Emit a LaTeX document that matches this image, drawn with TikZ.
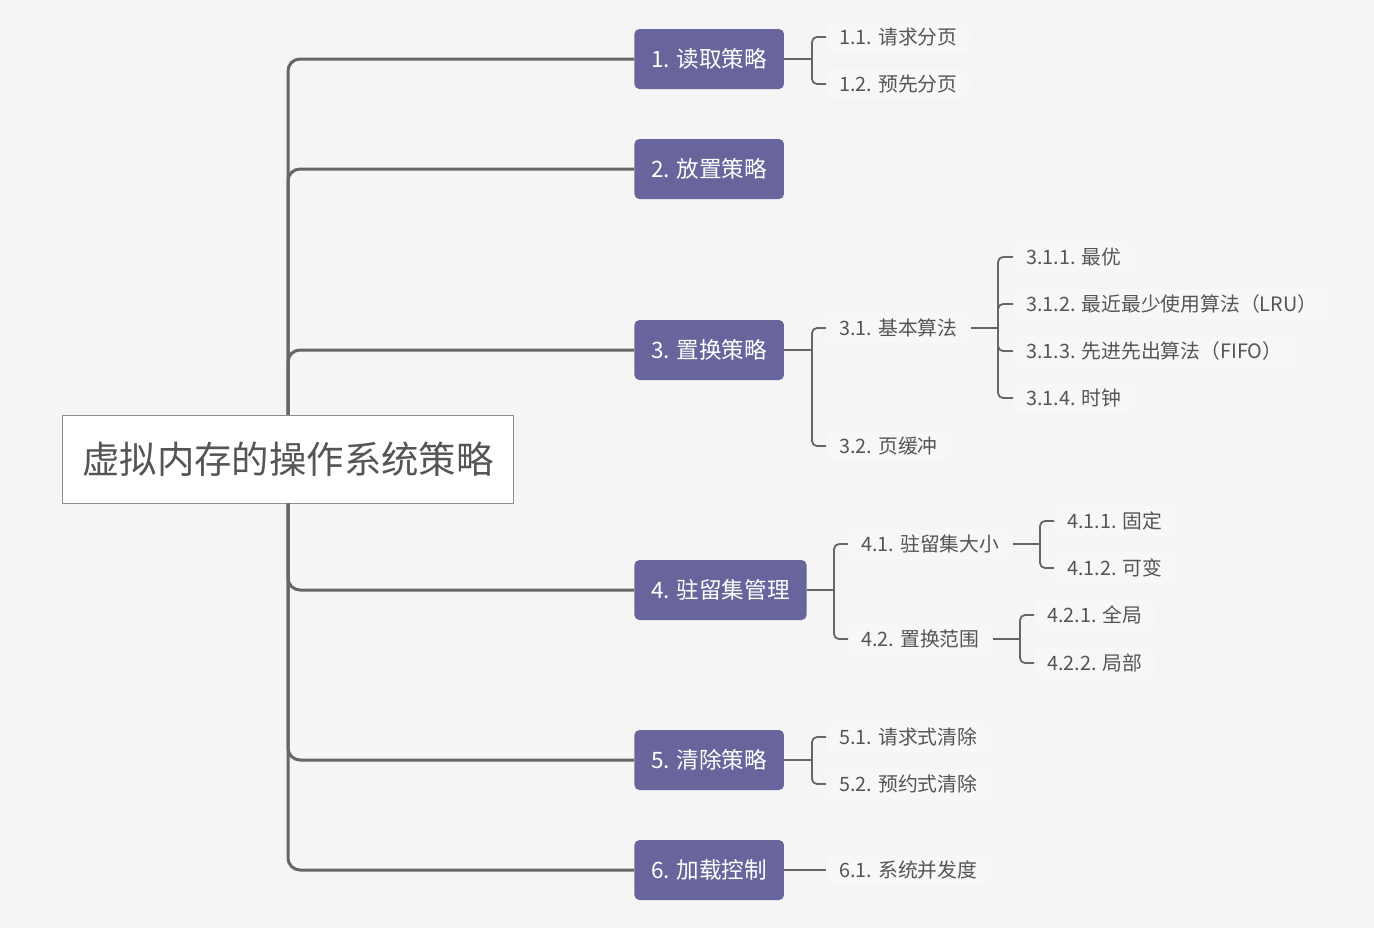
\documentclass[tikz,border=0pt]{standalone}
\usepackage{fontspec}
\setmainfont{Noto Sans CJK SC}
\usepackage{tikz}
\usetikzlibrary{backgrounds}
\definecolor{bggray}{HTML}{F5F5F5}
\definecolor{boxpurple}{HTML}{67659B}
\definecolor{linegray}{HTML}{666666}
\definecolor{textgray}{HTML}{555555}
\definecolor{rootborder}{HTML}{8C8C8C}
\definecolor{leafbg}{HTML}{F7F7F7}
\newcommand{\trunkwidth}{1.5pt}
\newcommand{\twigwidth}{0.9pt}

\begin{document}
\begin{tikzpicture}[x=0.5pt,y=-0.5pt,
  root/.style={draw=rootborder,fill=white,text=textgray,line width=0.5pt,
    font=\fontsize{18.7}{20}\selectfont,minimum width=225.5pt,minimum height=44pt,inner sep=0pt},
  topic/.style={fill=boxpurple,text=white,rounded corners=2.5pt,anchor=west,
    font=\fontsize{11.3}{13}\selectfont,minimum height=30pt,inner xsep=8.4pt},
  leaf/.style={fill=leafbg,text=textgray,rounded corners=3pt,anchor=west,
    font=\fontsize{9.9}{12}\selectfont,inner xsep=6.5pt,inner ysep=3pt},
  trunk/.style={draw=linegray,line width=\trunkwidth,rounded corners=6pt},
  twig/.style={draw=linegray,line width=\twigwidth,rounded corners=2.5pt}]
\path[use as bounding box,fill=bggray] (0,0) rectangle (1374,928);
%root and topics
\node[root] (root) at (288,459) {虚拟内存的操作系统策略};
\node[topic] (1) at (634,59) {1. 读取策略};
\node[topic] (2) at (634,169) {2. 放置策略};
\node[topic] (3) at (634,350) {3. 置换策略};
\node[topic] (4) at (634,590) {4. 驻留集管理};
\node[topic] (5) at (634,760) {5. 清除策略};
\node[topic] (6) at (634,870) {6. 加载控制};
%leaves
\node[leaf] (11) at (826,37) {1.1. 请求分页};
\node[leaf] (12) at (826,84) {1.2. 预先分页};
\node[leaf] (31) at (826,328) {3.1. 基本算法};
\node[leaf] (32) at (826,446) {3.2. 页缓冲};
\node[leaf] (311) at (1013,257) {3.1.1. 最优};
\node[leaf] (312) at (1013,304) {3.1.2. 最近最少使用算法（LRU）};
\node[leaf] (313) at (1013,351) {3.1.3. 先进先出算法（FIFO）};
\node[leaf] (314) at (1013,398) {3.1.4. 时钟};
\node[leaf] (41) at (848,544) {4.1. 驻留集大小};
\node[leaf] (42) at (848,639) {4.2. 置换范围};
\node[leaf] (411) at (1054,521) {4.1.1. 固定};
\node[leaf] (412) at (1054,568) {4.1.2. 可变};
\node[leaf] (421) at (1034,615) {4.2.1. 全局};
\node[leaf] (422) at (1034,663) {4.2.2. 局部};
\node[leaf] (51) at (826,737) {5.1. 请求式清除};
\node[leaf] (52) at (826,784) {5.2. 预约式清除};
\node[leaf] (61) at (826,870) {6.1. 系统并发度};
%trunk
\draw[trunk] (1.west) -| (root.north);
\draw[trunk] (2.west) -| (root.north);
\draw[trunk] (3.west) -| (root.north);
\draw[trunk] (4.west) -| (root.south);
\draw[trunk] (5.west) -| (root.south);
\draw[trunk] (6.west) -| (root.south);
%1
\coordinate (b1) at (812,59);
\draw[twig] (1.east) -- (b1);
\draw[twig] (11.west) -| (b1) |- (12.west);
%3
\coordinate (b3) at (812,350);
\draw[twig] (3.east) -- (b3);
\draw[twig] (31.west) -| (b3) |- (32.west);
\coordinate (b31) at (998,328);
\draw[twig] (31.east) -- (b31);
\draw[twig] (311.west) -| (b31) |- (314.west);
\draw[twig] (312.west) -| (b31);
\draw[twig] (313.west) -| (b31);
%4
\coordinate (b4) at (834,590);
\draw[twig] (4.east) -- (b4);
\draw[twig] (41.west) -| (b4) |- (42.west);
\coordinate (b41) at (1040,544);
\draw[twig] (41.east) -- (b41);
\draw[twig] (411.west) -| (b41) |- (412.west);
\coordinate (b42) at (1020,639);
\draw[twig] (42.east) -- (b42);
\draw[twig] (421.west) -| (b42) |- (422.west);
%5
\coordinate (b5) at (812,760);
\draw[twig] (5.east) -- (b5);
\draw[twig] (51.west) -| (b5) |- (52.west);
%6
\draw[twig] (6.east) -- (61.west);
\end{tikzpicture}
\end{document}
